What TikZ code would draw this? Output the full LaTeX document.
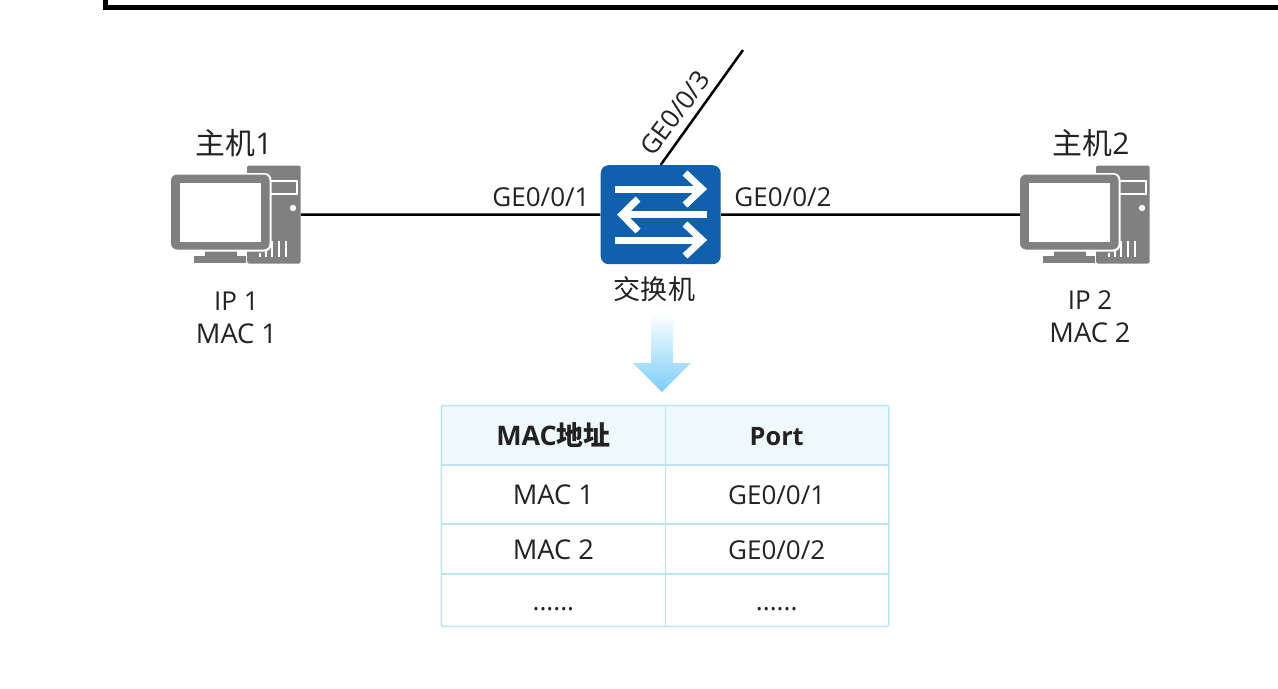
\documentclass[tikz,border=0pt]{standalone}
\usepackage{fontspec}
\setmainfont{Open Sans}
\newfontfamily\cjk{Noto Sans CJK SC}
\usepackage{tikz}
\usetikzlibrary{calc}
\definecolor{pcgray}{HTML}{808080}
\definecolor{swblue}{HTML}{1060AE}
\definecolor{tabline}{HTML}{BFE3F6}
\definecolor{tabhead}{HTML}{EFF8FD}
\definecolor{arrowblue}{HTML}{7CCDF9}
\definecolor{txt}{HTML}{222222}
\tikzset{
  lbl/.style={inner sep=0pt,text=txt,font=\fontsize{14.8}{16}\selectfont},
  maclbl/.style={lbl,font=\fontsize{15.5}{16}\selectfont},
  hostlbl/.style={lbl,font=\fontsize{17}{18}\selectfont},
  hostbox/.style={inner sep=0pt,minimum width=25.8mm,minimum height=19.8mm},
  swbox/.style={fill=swblue,rounded corners=1.6mm,inner sep=0pt,minimum width=24mm,minimum height=19.8mm},
  link/.style={line width=0.5mm,black},
  swarrow/.style={white,line width=1.4mm,miter limit=10},
  cell/.style={lbl,minimum width=44.7mm,text height=4.2mm,text depth=0pt},
  maccell/.style={cell,font=\fontsize{15.5}{16}\selectfont},
  headcell/.style={cell,fill=tabhead,minimum height=11.7mm},
  gridline/.style={draw=tabline,line width=0.32mm},
  pcicon/.pic={
    \fill[pcgray,rounded corners=0.3mm] (11,-49) rectangle (64.5,49);
    \fill[pcgray] (-42,41.5) rectangle (10,48.5);
    \fill[pcgray] (-31,34) rectangle (1,42);
    \draw[white,line width=0.4mm] (34,-33.5) rectangle (61,-20.5);
    \fill[white] (57,-6.5) circle (3.2);
    \foreach \vx in {30,36,43,50} \draw[white,line width=0.32mm] (\vx,26) -- (\vx,42);
    \draw[white,line width=0.32mm] (24,38) -- (24,42);
    \fill[white,rounded corners=1.4mm] (-66,-41.5) rectangle (35.5,37);
    \fill[pcgray,rounded corners=1.2mm] (-65,-40) rectangle (33.5,35);
    \fill[white] (-56,-31.5) rectangle (25,27.5);
  }
}
\begin{document}
\begin{tikzpicture}[x=0.2mm,y=-0.2mm]
\useasboundingbox (0,0) rectangle (1278,688);
\draw[line width=1mm,black] (105.5,0) -- (105.5,7.5) -- (1278,7.5);
% hosts and switch
\node[hostbox] (host1) at (236,214.5) {};
\node[hostbox] (host2) at (1085,214.5) {};
\pic at (host1) {pcicon};
\pic at (host2) {pcicon};
\node[swbox] (sw) at (660.7,214.7) {};
\coordinate (uplink) at (743,50);
\draw[link] (host1.east) -- (sw.west);
\draw[link] (sw.east) -- (host2.west);
\draw[link] (sw.north) -- (uplink);
% arrows on the switch
\draw[swarrow] (615,189) -- (702,189);
\draw[swarrow] (685,173) -- (702,189) -- (685,205);
\draw[swarrow] (707,214.7) -- (622,214.7);
\draw[swarrow] (638,199) -- (622,214.7) -- (638,231);
\draw[swarrow] (615,240) -- (702,240);
\draw[swarrow] (685,224) -- (702,240) -- (685,256);
% labels
\node[hostlbl] (h1name) at (234,143) {{\cjk 主机}1};
\node[hostlbl] (h2name) at (1091,143) {{\cjk 主机}2};
\node[lbl] (h1ip) at (236.5,301) {IP 1};
\node[maclbl] (h1mac) at (236.5,334) {MAC 1};
\node[lbl] (h2ip) at (1090,300) {IP 2};
\node[maclbl] (h2mac) at (1090,333) {MAC 2};
\node[lbl,font=\fontsize{15.4}{16}\selectfont] (swname) at (654.5,289.5) {\cjk 交换机};
\node[lbl] (port1) at (541,197) {GE0/0/1};
\node[lbl] (port2) at (783,197) {GE0/0/2};
\node[lbl,rotate=53] (port3) at (675,113) {GE0/0/3};
% arrow down to the table
\shade[top color=white,bottom color=arrowblue] (651,313) -- (673,313) -- (673,363) -- (691,363) -- (661.8,392) -- (633,363) -- (651,363) -- cycle;
% table
\node[headcell,font=\fontsize{15.3}{16}\selectfont\bfseries] (th1) at (553.4,435.2) {MAC{\cjk 地址}};
\node[headcell,font=\fontsize{14.4}{16}\selectfont\bfseries] (th2) at (776.7,435.2) {Port};
\node[maccell,minimum height=11.8mm] (a1) at (553.4,494) {MAC 1};
\node[cell,minimum height=11.8mm] (b1) at (776.7,494) {GE0/0/1};
\node[maccell,minimum height=10mm] (a2) at (553.4,548.5) {MAC 2};
\node[cell,minimum height=10mm] (b2) at (776.7,548.5) {GE0/0/2};
\node[cell,minimum height=10.5mm] (a3) at (553.4,599.7) {......};
\node[cell,minimum height=10.5mm] (b3) at (776.7,599.7) {......};
\draw[gridline,rounded corners=0.4mm] (th1.north west) rectangle (b3.south east);
\draw[gridline] (th1.north east) -- (a3.south east);
\draw[gridline] (th1.south west) -- (th2.south east);
\draw[gridline] (a1.south west) -- (b1.south east);
\draw[gridline] (a2.south west) -- (b2.south east);
\end{tikzpicture}
\end{document}
